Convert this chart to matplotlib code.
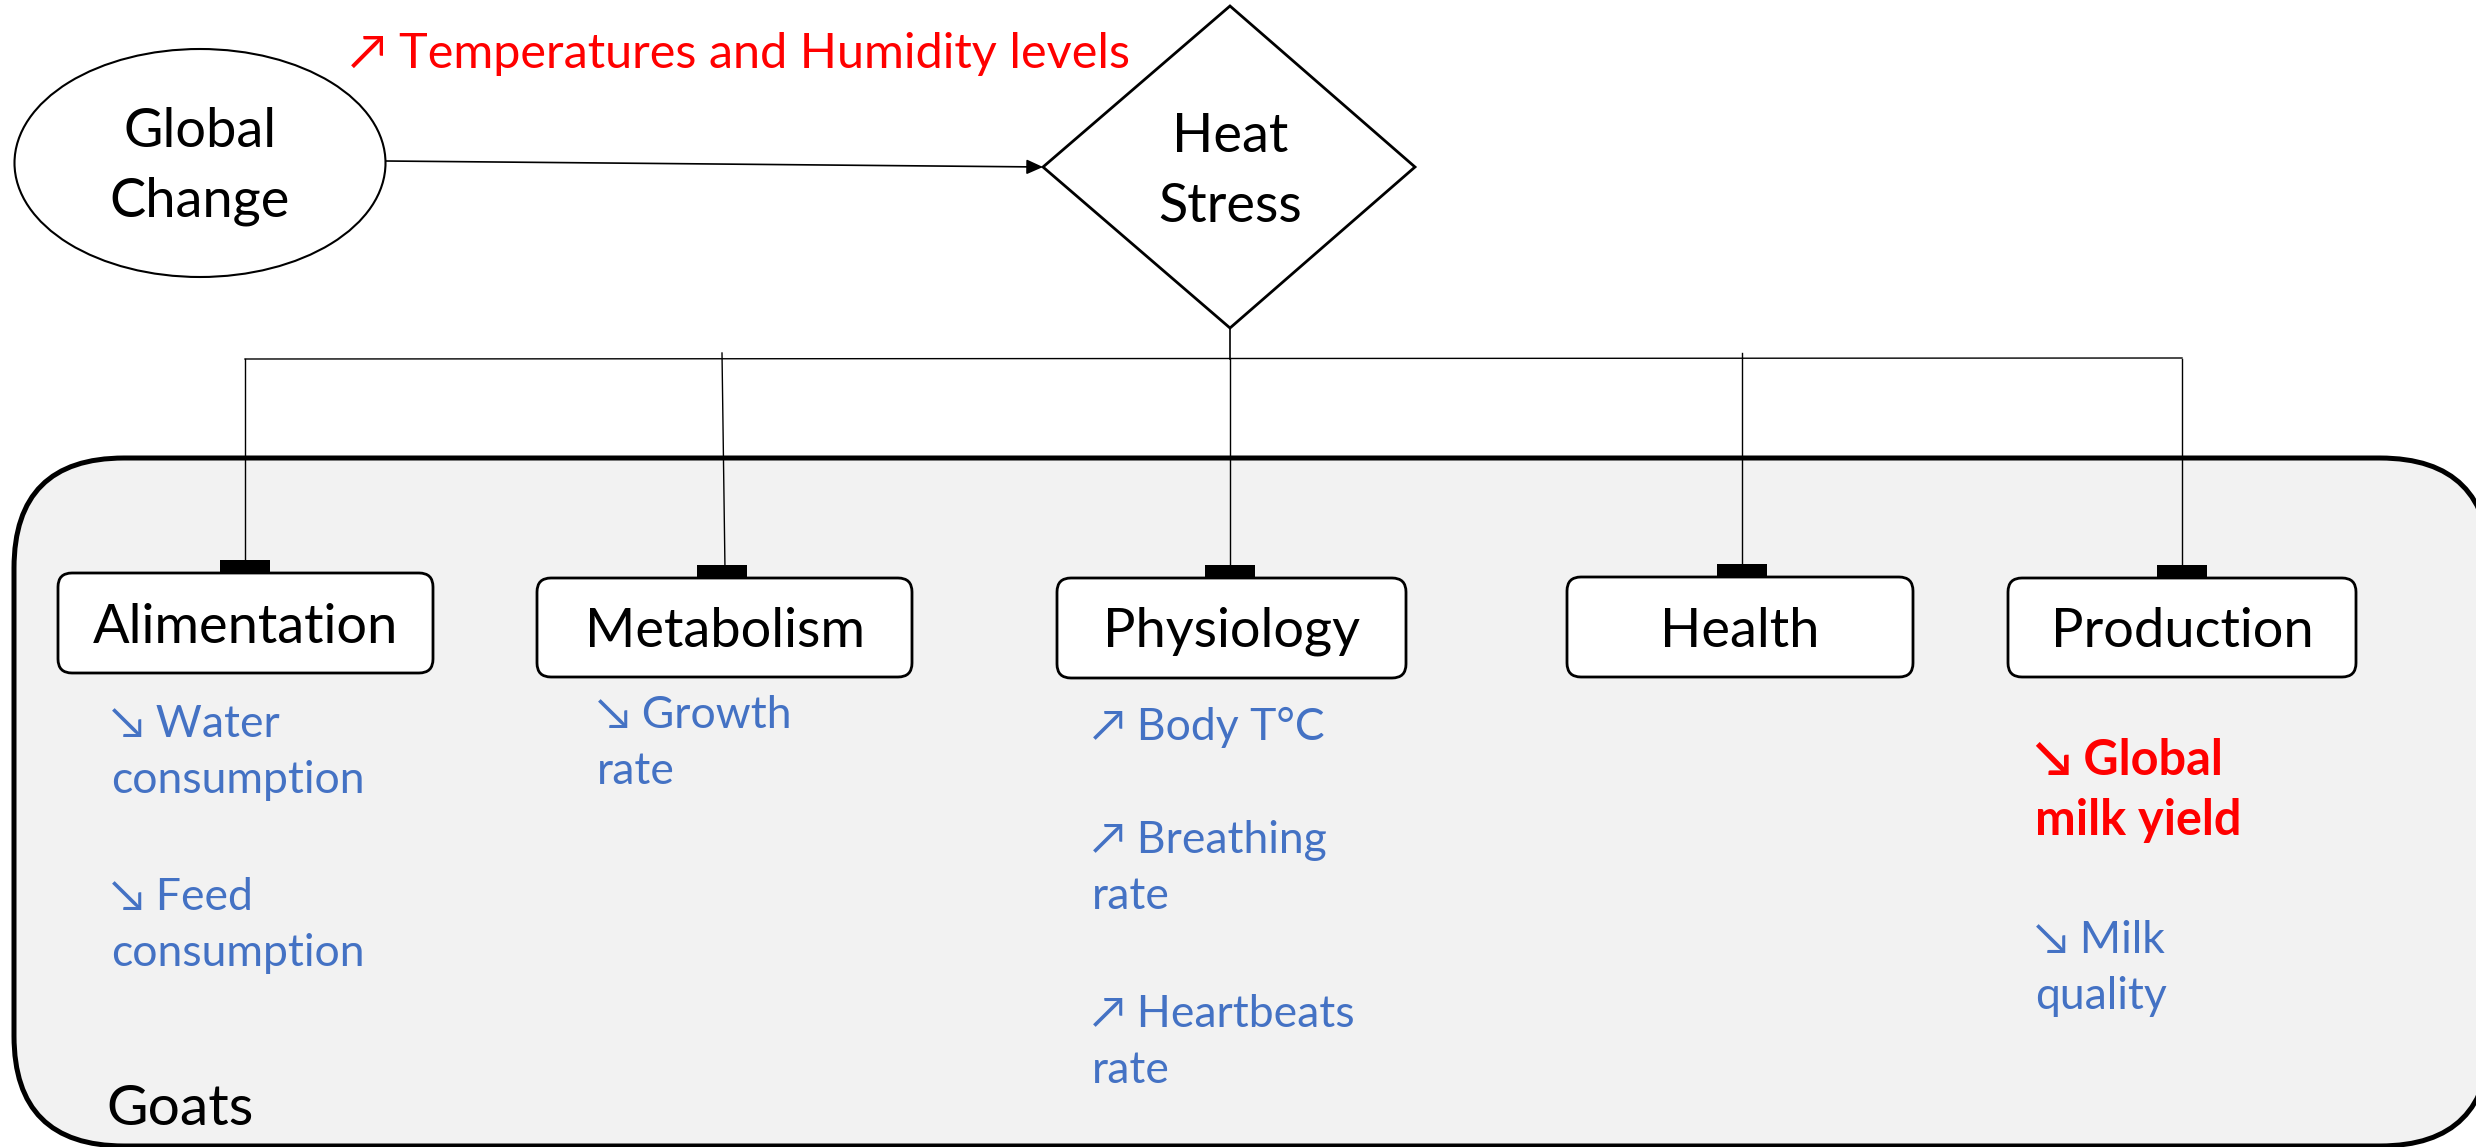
import matplotlib.pyplot as plt
from matplotlib.patches import Ellipse, Polygon, FancyBboxPatch, Rectangle

# canvas in pixels
W, H = 2476, 1147
FONT = ['Lato', 'DejaVu Sans']
BLUE = '#4472C4'
RED = '#FF0000'
GREY = '#F2F2F2'

# texts
cause_label = 'Global\nChange'
stress_label = 'Heat\nStress'
driver_label = '\u2197 Temperatures and Humidity levels'
group_label = 'Goats'
box_labels = ['Alimentation', 'Metabolism', 'Physiology', 'Health', 'Production']
effects = [
    ['\u2198 Water\nconsumption', '\u2198 Feed\nconsumption'],
    ['\u2198 Growth\nrate'],
    ['\u2197 Body T\u00b0C', '\u2197 Breathing\nrate', '\u2197 Heartbeats\nrate'],
    [],
    ['\u2198 Global\nmilk yield', '\u2198 Milk\nquality'],
]
highlight = ['\u2198 Global\nmilk yield']

# layout (pixels)
box_x = [(58, 433), (537, 912), (1057, 1406), (1567, 1913), (2008, 2356)]
box_y = [(573, 673), (578, 677), (578, 678), (577, 677), (578, 677)]
label_base = [643, 647, 647, 647, 647]
drop_x = [245, 722, 1230, 1742, 2182]
eff_x = [111, 597, 1092, None, 2035]
eff_y = [[737, 910], [728], [740, 853, 1027], [], [775, 953]]


def lines(x, y, txt, gap, **kw):
    # one text per line so each baseline sits where it should
    for k, part in enumerate(txt.split('\n')):
        ax.text(x, y + k * gap, part, va='baseline', family=FONT, **kw)


fig = plt.figure(figsize=(W / 100, H / 100), dpi=100)
ax = fig.add_axes([0, 0, 1, 1])
ax.set_xlim(0, W)
ax.set_ylim(H, 0)
ax.axis('off')

# big goats container
ax.add_patch(FancyBboxPatch((14, 458), 2476, 688,
                            boxstyle='round,pad=0,rounding_size=110',
                            fc=GREY, ec='black', lw=3.6, zorder=1))
lines(106, 1125, group_label, 0, fontsize=41)

# global change ellipse
ax.add_patch(Ellipse((200, 163), 371, 228, fc='white', ec='black', lw=1.5, zorder=2))
lines(200, 147, cause_label, 70, fontsize=39, ha='center', zorder=3)

# heat stress diamond
dia = [(1230, 6), (1415, 167), (1230, 328), (1043, 167)]
ax.add_patch(Polygon(dia, closed=True, fc='white', ec='black', lw=2, zorder=2))
lines(1230, 152, stress_label, 70, fontsize=39, ha='center', zorder=3)

ax.annotate('', xy=(1043, 167), xytext=(386, 161),
            arrowprops=dict(arrowstyle='-|>,head_length=1.0,head_width=0.45',
                            color='black', lw=1.2, shrinkA=0, shrinkB=0), zorder=3)
lines(350, 68, driver_label, 0, fontsize=35, color=RED)

# connectors
ax.plot([1230, 1230], [328, 359], color='black', lw=1.2, zorder=2)
ax.plot([drop_x[0], drop_x[-1]], [359, 358], color='black', lw=1.0, zorder=2)
for i, x in enumerate(drop_x):
    top = 353 if i in (1, 3) else 359
    ax.plot([x, x + (3 if i == 1 else 0)], [top, box_y[i][0] - 8], color='black', lw=1.0, zorder=2)
    ax.add_patch(Rectangle((x - 25, box_y[i][0] - 13), 50, 13, fc='black', ec='none', zorder=4))

# category boxes
for i, lab in enumerate(box_labels):
    x0, x1 = box_x[i]
    y0, y1 = box_y[i]
    ax.add_patch(FancyBboxPatch((x0, y0), x1 - x0, y1 - y0,
                                boxstyle='round,pad=0,rounding_size=14',
                                fc='white', ec='black', lw=2.0, zorder=3))
    lines((x0 + x1) / 2, label_base[i], lab, 0, fontsize=39, ha='center', zorder=4)

# effects
for i, items in enumerate(effects):
    for txt, y in zip(items, eff_y[i]):
        if txt in highlight:
            lines(eff_x[i], y, txt, 60, fontsize=35, color=RED, fontweight='bold', zorder=4)
        else:
            lines(eff_x[i], y, txt, 56, fontsize=32, color=BLUE, zorder=4)

fig.savefig('out.png', dpi=100)
